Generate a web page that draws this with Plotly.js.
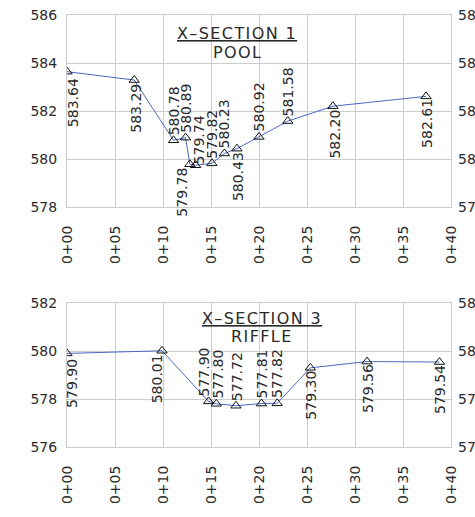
<!DOCTYPE html>
<html>
<head>
<meta charset="utf-8">
<script src="https://cdn.plot.ly/plotly-3.0.1.min.js"></script>
<style>html,body{margin:0;padding:0;background:#fff;overflow:hidden}</style>
</head>
<body>
<div id="chart" style="width:475px;height:517px"></div>
<script>
// ---- data ----
var stations1 = [0, 7.0, 11.1, 12.35, 12.8, 13.4, 15.1, 16.4, 17.7, 20.0, 23.0, 27.7, 37.4];
var elev1 = [583.64, 583.29, 580.78, 580.89, 579.78, 579.74, 579.82, 580.23, 580.43, 580.92, 581.58, 582.20, 582.61];
var stations2 = [0, 9.9, 14.75, 15.55, 17.6, 20.25, 21.9, 25.35, 31.25, 38.8];
var elev2 = [579.90, 580.01, 577.90, 577.80, 577.72, 577.81, 577.82, 579.30, 579.56, 579.54];
var xTickVals = [0, 5, 10, 15, 20, 25, 30, 35, 40];
var xTickText = ["0+00", "0+05", "0+10", "0+15", "0+20", "0+25", "0+30", "0+35", "0+40"];
var title1 = ["X\u2013SECTION 1", "POOL"];
var title2 = ["X\u2013SECTION 3", "RIFFLE"];

// ---- label placement (style) ----
var side1 = ['below','below','above','above','below','above','above','above','below','above','above','below','below'];
var xs1 = [6, 1, 0, 1, -8, 3, 0, 0, 1, 0, 0, 2, 1];
var ys1 = [-4, -1, 0, 0, 0, -4, 0, 0, 0, 0, 0, 0, 0];
var side2 = ['below','below','above','above','above','above','above','below','below','below'];
var xs2 = [5, -5, -5, 2, 1, 1, 0, 1, 1, 0];
var ys2 = [-3, -1, 0, 0, 0, 0, 0, 0, 0, 0, 0];

var FONT = "DejaVu Sans";
var GRID = "#cccccc";
var TXT = "#2a2a2a";
var LINE = "#4a68c4";

function trace(x, y, xa, ya) {
  return {
    x: x, y: y, xaxis: xa, yaxis: ya, type: 'scatter', mode: 'lines+markers',
    line: {color: LINE, width: 1},
    marker: {symbol: 'triangle-up-open', size: 9, color: '#111', line: {width: 1, color: '#111'}},
    hoverinfo: 'skip', showlegend: false
  };
}

var data = [
  trace(stations1, elev1, 'x', 'y'),
  trace(stations2, elev2, 'x2', 'y2'),
  // invisible traces to carry the right-hand axes
  {x: [stations1[0]], y: [elev1[0]], xaxis: 'x', yaxis: 'y3', mode: 'markers', marker: {opacity: 0}, showlegend: false, hoverinfo: 'skip'},
  {x: [stations2[0]], y: [elev2[0]], xaxis: 'x2', yaxis: 'y4', mode: 'markers', marker: {opacity: 0}, showlegend: false, hoverinfo: 'skip'}
];

function xaxis(anchor) {
  return {
    anchor: anchor, range: [0, 40], tickmode: 'array', tickvals: xTickVals, ticktext: xTickText,
    tickangle: -90, showgrid: true, gridcolor: GRID, gridwidth: 1, zeroline: false,
    showline: true, linecolor: GRID, mirror: true, ticks: '', ticklabelstandoff: 12,
    tickfont: {family: FONT, size: 14, color: TXT}, fixedrange: true
  };
}
function yaxis(range, dom, anchor) {
  return {
    anchor: anchor, range: range, domain: dom, dtick: 2, tick0: 0, showgrid: true, gridcolor: GRID,
    gridwidth: 1, zeroline: false, showline: true, linecolor: GRID, mirror: true, ticks: '',
    ticklabelstandoff: 6, tickfont: {family: FONT, size: 14, color: TXT}, fixedrange: true
  };
}
function yright(range, over) {
  return {
    overlaying: over, side: 'right', range: range, dtick: 2, tick0: 0, showgrid: false,
    zeroline: false, showline: false, ticks: '', ticklabelstandoff: 6,
    tickfont: {family: FONT, size: 14, color: TXT}, fixedrange: true
  };
}

var dom1 = [1 - 192 / 432, 1];
var dom2 = [0, 144 / 432];

var annotations = [];
function addLabels(xs, ys, sides, xsh, ysh, xr, yr) {
  for (var i = 0; i < xs.length; i++) {
    var below = sides[i] === 'below';
    annotations.push({
      x: xs[i], y: ys[i], xref: xr, yref: yr, text: ys[i].toFixed(2), showarrow: false,
      textangle: -90, xanchor: 'center', yanchor: below ? 'top' : 'bottom',
      xshift: xsh[i], yshift: (below ? -1 : 3) + ysh[i],
      font: {family: FONT, size: 14, color: TXT}
    });
  }
}
addLabels(stations1, elev1, side1, xs1, ys1, 'x', 'y');
addLabels(stations2, elev2, side2, xs2, ys2, 'x2', 'y2');

function addTitle(lines, xc, y1, y2, xr, yr) {
  annotations.push({
    x: xc, y: y1, xref: xr, yref: yr, xanchor: 'center', yanchor: 'top', showarrow: false,
    text: '<span style="text-decoration:underline;letter-spacing:1.4px">' + lines[0] + '</span>',
    font: {family: FONT, size: 16, color: TXT}
  });
  annotations.push({
    x: xc, y: y2, xref: xr, yref: yr, xanchor: 'center', yanchor: 'top', showarrow: false,
    text: '<span style="letter-spacing:1.4px">' + lines[1] + '</span>',
    font: {family: FONT, size: 16, color: TXT}
  });
}
addTitle(title1, 0.443, 0.962, 0.862, 'x domain', 'y domain');
addTitle(title2, 0.509, 0.975, 0.850, 'x2 domain', 'y2 domain');

var layout = {
  width: 475, height: 517,
  margin: {l: 67, r: 24, t: 15, b: 70, pad: 0},
  paper_bgcolor: '#ffffff', plot_bgcolor: '#ffffff',
  xaxis: xaxis('y'),
  yaxis: yaxis([578, 586], dom1, 'x'),
  xaxis2: xaxis('y2'),
  yaxis2: yaxis([576, 582], dom2, 'x2'),
  yaxis3: yright([578, 586], 'y'),
  yaxis4: yright([576, 582], 'y2'),
  annotations: annotations,
  showlegend: false
};
layout.yaxis3.domain = dom1;
layout.yaxis4.domain = dom2;

Plotly.newPlot('chart', data, layout, {staticPlot: true, displayModeBar: false});
</script>
</body>
</html>
